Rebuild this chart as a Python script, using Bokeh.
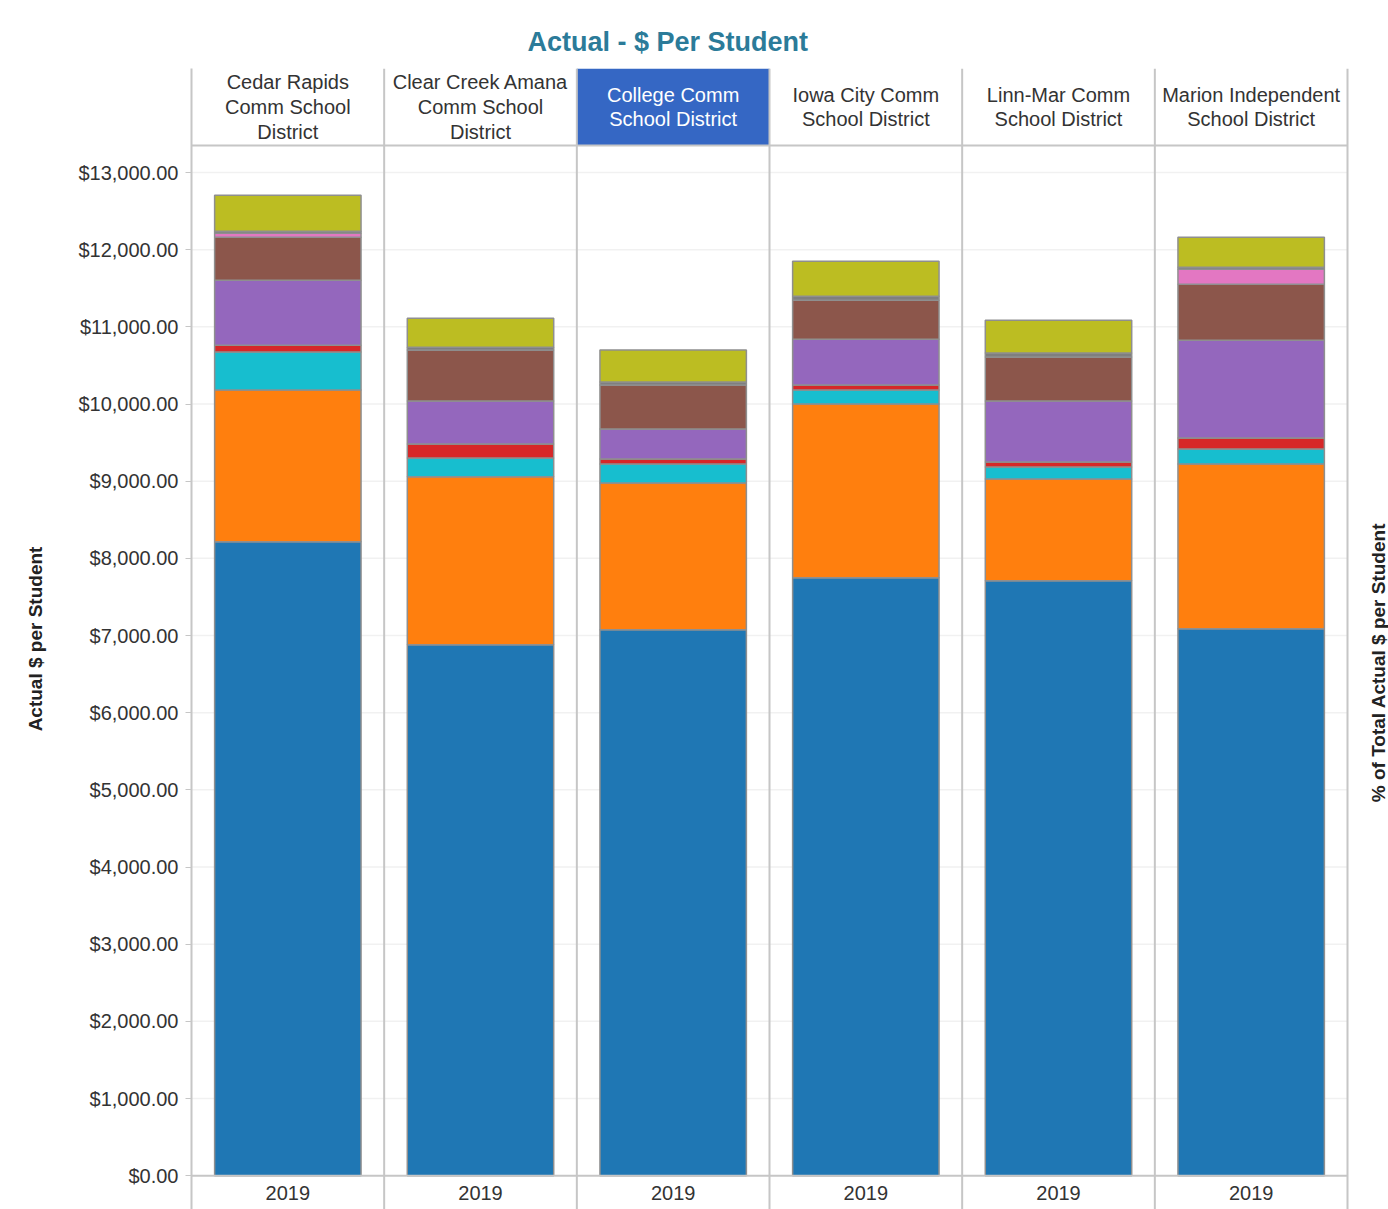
import math
from bokeh.plotting import figure
from bokeh.models import (ColumnDataSource, FixedTicker, NumeralTickFormatter, Span, Range1d)
from bokeh.core.properties import value
from bokeh.embed import file_html
from bokeh.resources import INLINE

# ---------------- data ----------------
districts = [
    "Cedar Rapids\nComm School\nDistrict",
    "Clear Creek Amana\nComm School\nDistrict",
    "College Comm\nSchool District",
    "Iowa City Comm\nSchool District",
    "Linn-Mar Comm\nSchool District",
    "Marion Independent\nSchool District",
]
years = ["2019", "2019", "2019", "2019", "2019", "2019"]
highlighted = "College Comm\nSchool District"

# stacked segments, bottom to top (values in $ per student)
seg_blue   = [8215, 6882, 7076, 7749, 7710, 7089]
seg_orange = [1966, 2174, 1902, 2251, 1320, 2135]
seg_cyan   = [492, 245, 246, 181, 155, 194]
seg_red    = [90, 181, 64, 65, 65, 142]
seg_purple = [841, 557, 389, 595, 789, 1268]
seg_brown  = [556, 660, 569, 504, 569, 724]
seg_pink   = [52, 0, 0, 0, 0, 194]
seg_gray   = [26, 38, 39, 52, 52, 26]
seg_olive  = [466, 376, 414, 453, 427, 388]

y_ticks = [0, 1000, 2000, 3000, 4000, 5000, 6000, 7000, 8000, 9000,
           10000, 11000, 12000, 13000]

y_title = "Actual $ per Student"
right_title = "% of Total Actual $ per Student"

# ---------------- styling ----------------
stack_keys = ["blue", "orange", "cyan", "red", "purple", "brown", "pink", "gray", "olive"]
stack_colors = ["#1f77b4", "#ff7f0e", "#17becf", "#d62728", "#9467bd",
                "#8c564b", "#e377c2", "#7f7f7f", "#bcbd22"]
FONT = "Liberation Sans"
LINE = "#c6c6c6"
HEADER_BOTTOM = 13350
HEADER_TOP = 14348
FOOT_Y = -225
RIGHT_MARGIN = 41 / 192.67          # extra x-space right of the last facet
RIGHT_LABEL_X = 31 / 192.67         # label offset beyond the last facet
RIGHT_LABEL_Y = 6650

n = len(districts)
xs = [i + 0.5 for i in range(n)]

src = ColumnDataSource(dict(
    x=xs,
    blue=seg_blue, orange=seg_orange, cyan=seg_cyan, red=seg_red,
    purple=seg_purple, brown=seg_brown, pink=seg_pink, gray=seg_gray, olive=seg_olive,
))

p = figure(width=1388, height=1209, output_backend="svg", toolbar_location=None,
           x_range=Range1d(0, n + RIGHT_MARGIN), y_range=Range1d(-438, HEADER_TOP),
           x_axis_location=None, min_border_left=191, min_border_right=0,
           min_border_top=68, min_border_bottom=0)
p.outline_line_color = None
p.background_fill_color = "white"
p.border_fill_color = "white"

# title
p.title.text = "Actual - $ Per Student"
p.title.text_font = FONT
p.title.text_font_size = "27px"
p.title.text_font_style = "bold"
p.title.text_color = "#2b7b99"
p.title.align = "left"
p.title.offset = 336
p.title.standoff = 24

# grid (drawn as segments limited to the facet area)
p.xgrid.visible = False
p.ygrid.visible = False
gsrc = ColumnDataSource(dict(y=y_ticks[1:], x0=[0] * (len(y_ticks) - 1),
                             x1=[n] * (len(y_ticks) - 1)))
p.segment(x0="x0", x1="x1", y0="y", y1="y", source=gsrc,
          line_color="#f1f1f1", line_width=1.5)

# left axis
ya = p.yaxis[0]
ya.ticker = FixedTicker(ticks=y_ticks)
ya.formatter = NumeralTickFormatter(format="$0,0.00")
ya.axis_line_color = LINE
ya.axis_line_width = 2
ya.major_tick_line_color = LINE
ya.major_tick_out = 6
ya.major_tick_in = 0
ya.minor_tick_line_color = None
ya.major_label_standoff = 7
ya.major_label_text_font = FONT
ya.major_label_text_font_size = "20px"
ya.major_label_text_color = "#333333"
ya.axis_label = y_title
ya.axis_label_text_font = FONT
ya.axis_label_text_font_size = "19px"
ya.axis_label_text_font_style = "bold"
ya.axis_label_text_color = "#222222"
ya.axis_label_standoff = 29

# header highlight cell
hi = districts.index(highlighted)
hsrc = ColumnDataSource(dict(left=[hi], right=[hi + 1], bottom=[HEADER_BOTTOM], top=[HEADER_TOP]))
p.quad(left="left", right="right", bottom="bottom", top="top", source=hsrc,
       fill_color="#3567c4", line_color=None)

# stacked bars
p.vbar_stack(stack_keys, x="x", width=0.76, source=src, color=stack_colors,
             line_color="#8f8f8f", line_width=1.5)

# facet separators (incl. right border) and horizontal rules
for i in range(1, n + 1):
    p.add_layout(Span(location=i, dimension="height", line_color=LINE, line_width=2))
rsrc = ColumnDataSource(dict(y=[0, HEADER_BOTTOM], x0=[0, 0], x1=[n, n]))
p.segment(x0="x0", x1="x1", y0="y", y1="y", source=rsrc, line_color=LINE, line_width=2)

# header texts
tsrc = ColumnDataSource(dict(
    x=xs, y=[(HEADER_BOTTOM + HEADER_TOP) / 2] * n, text=districts,
    color=["white" if d == highlighted else "#333333" for d in districts],
))
p.text(x="x", y="y", text="text", source=tsrc, text_color="color",
       text_font=value(FONT), text_font_size="20px", text_align="center",
       text_baseline="middle", text_line_height=1.12)

# footer year labels
fsrc = ColumnDataSource(dict(x=xs, y=[FOOT_Y] * n, text=years))
p.text(x="x", y="y", text="text", source=fsrc, text_color="#333333",
       text_font=value(FONT), text_font_size="20px", text_align="center",
       text_baseline="middle")

# right-hand title, reading bottom to top
p.text(x=[n + RIGHT_LABEL_X], y=[RIGHT_LABEL_Y], text=[right_title], angle=math.pi / 2,
       text_color="#222222", text_font=value(FONT), text_font_size="19px",
       text_font_style="bold", text_align="center", text_baseline="middle")

open("out.html", "w").write(file_html(p, INLINE))
